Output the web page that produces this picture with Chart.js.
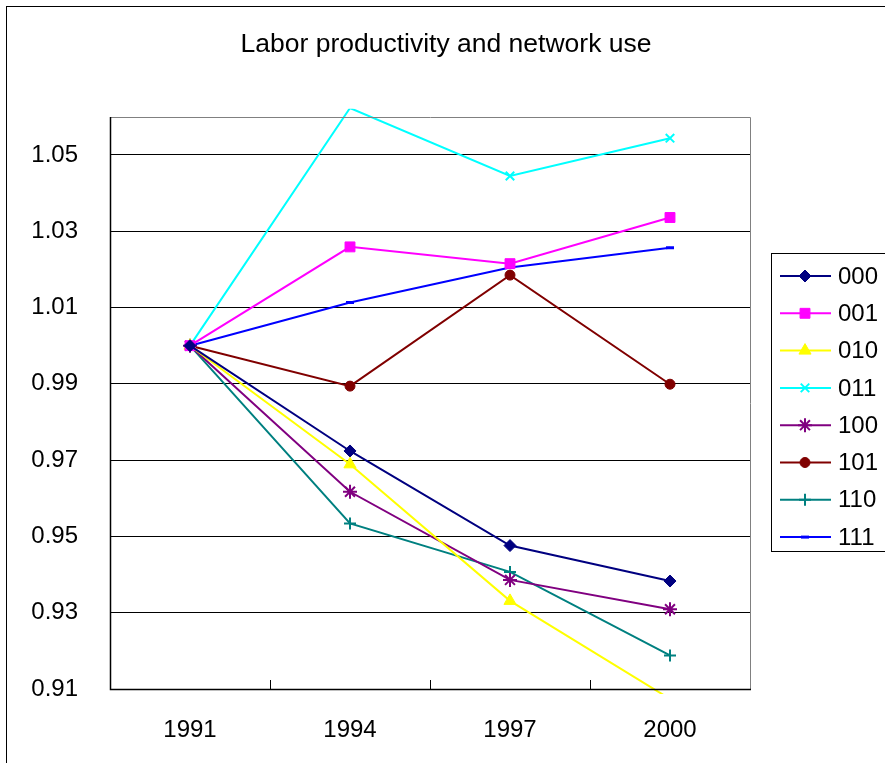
<!DOCTYPE html>
<html>
<head>
<meta charset="utf-8">
<script src="https://cdn.jsdelivr.net/npm/chart.js@4.4.0/dist/chart.umd.min.js"></script>
<style>
  html, body { margin: 0; padding: 0; background: #fff; overflow: hidden; width: 885px; height: 763px; }
  #frame { position: absolute; left: 6px; top: 6px; width: 900px; height: 800px; border-left: 1px solid #000; border-top: 1px solid #000; }
  #wrap { position: absolute; left: 7px; top: 7px; width: 878px; height: 756px; }
</style>
</head>
<body>
<div id="frame"></div>
<div id="wrap"><canvas id="c" width="878" height="756"></canvas></div>
<script>
// ---- data ----
const titleText = 'Labor productivity and network use';
const years = ['1991', '1994', '1997', '2000'];
const yTicks = [0.91, 0.93, 0.95, 0.97, 0.99, 1.01, 1.03, 1.05];
const yMin = 0.91;
const yMax = 1.06;
const seriesNames = ['000', '001', '010', '011', '100', '101', '110', '111'];
const s000 = [1.000, 0.9724, 0.9476, 0.9383];
const s001 = [1.000, 1.0259, 1.0215, 1.0336];
const s010 = [1.000, 0.9689, 0.9331, 0.9074];
const s011 = [1.000, 1.0623, 1.0445, 1.0544];
const s100 = [1.000, 0.9617, 0.9386, 0.9309];
const s101 = [1.000, 0.9894, 1.0185, 0.9899];
const s110 = [1.000, 0.9534, 0.9407, 0.9188];
const s111 = [1.000, 1.0113, 1.0205, 1.0257];

// ---- styles ----
const styles = [
  { color: '#000080', point: 'rectRot', r: 6, bw: 1 },
  { color: '#FF00FF', point: 'rect', r: 7, bw: 1 },
  { color: '#FFFF00', point: 'triangle', r: 7, bw: 1 },
  { color: '#00FFFF', point: 'crossRot', r: 6, bw: 2 },
  { color: '#800080', point: 'star', r: 7, bw: 2 },
  { color: '#800000', point: 'circle', r: 5, bw: 1 },
  { color: '#008080', point: 'cross', r: 6, bw: 2 },
  { color: '#0000FF', point: 'line', r: 4, bw: 3 }
];
const allSeries = [s000, s001, s010, s011, s100, s101, s110, s111];

const datasets = allSeries.map((vals, i) => {
  const st = styles[i];
  return {
    label: seriesNames[i],
    data: vals,
    yAxisID: 'y',
    borderColor: st.color,
    backgroundColor: st.color,
    borderWidth: 2,
    pointStyle: st.point,
    pointRadius: (ctx) => (ctx.parsed && (ctx.parsed.y < yMin || ctx.parsed.y > yMax)) ? 0 : st.r,
    pointBorderWidth: st.bw,
    pointBorderColor: st.color,
    pointBackgroundColor: st.color,
    tension: 0,
    clip: { left: 10, top: 8, right: 10, bottom: 5 }
  };
});

const FONT = "'Liberation Sans', Arial, sans-serif";

const framePlugin = {
  id: 'framePlugin',
  afterDatasetsDraw(chart) {
    const ctx = chart.ctx;
    const a = chart.chartArea;
    const xs = chart.scales.x;
    ctx.save();
    // top & right border of plot area (gray)
    ctx.strokeStyle = '#808080';
    ctx.lineWidth = 1;
    ctx.beginPath();
    ctx.moveTo(Math.round(a.left) + 0.5, Math.round(a.top) + 0.5);
    ctx.lineTo(Math.round(a.right) + 0.5, Math.round(a.top) + 0.5);
    ctx.lineTo(Math.round(a.right) + 0.5, Math.round(a.bottom) + 0.5);
    ctx.stroke();
    // axes
    ctx.strokeStyle = '#000';
    ctx.lineWidth = 1.5;
    ctx.beginPath();
    ctx.moveTo(Math.round(a.left) + 0.5, Math.round(a.top));
    ctx.lineTo(Math.round(a.left) + 0.5, Math.round(a.bottom) + 0.5);
    ctx.lineTo(Math.round(a.right) + 1, Math.round(a.bottom) + 0.5);
    ctx.stroke();
    // inward category tick marks
    ctx.lineWidth = 1;
    const n = years.length;
    for (let i = 1; i < n; i++) {
      const x = Math.round(xs.left + i * (xs.right - xs.left) / n) + 0.5;
      ctx.beginPath();
      ctx.moveTo(x, a.bottom);
      ctx.lineTo(x, a.bottom - 9);
      ctx.stroke();
    }
    ctx.restore();
  },
  afterDraw(chart) {
    const ctx = chart.ctx;
    ctx.save();
    // legend box
    const bx = 764, by = 246, bh = 298;
    ctx.strokeStyle = '#000';
    ctx.lineWidth = 1;
    ctx.strokeRect(bx + 0.5, by + 0.5, 200, bh);
    chart.data.datasets.forEach((ds, i) => {
      const st = styles[i];
      const y = 269 + i * 37.3;
      ctx.strokeStyle = st.color;
      ctx.lineWidth = 2;
      ctx.beginPath();
      ctx.moveTo(773, y);
      ctx.lineTo(824, y);
      ctx.stroke();
      ctx.fillStyle = st.color;
      ctx.lineWidth = st.bw;
      Chart.helpers.drawPoint(ctx, { pointStyle: st.point, radius: st.r, borderWidth: st.bw, rotation: 0 }, 798, y);
      ctx.fillStyle = '#000';
      ctx.font = '24px ' + FONT;
      ctx.textAlign = 'left';
      ctx.textBaseline = 'middle';
      ctx.fillText(ds.label, 831, y + 1);
    });
    ctx.restore();
  }
};

new Chart(document.getElementById('c'), {
  type: 'line',
  data: { labels: years, datasets },
  options: {
    responsive: false,
    animation: false,
    events: [],
    layout: { padding: 0 },
    plugins: {
      legend: { display: false },
      tooltip: { enabled: false },
      title: {
        display: true,
        text: titleText,
        color: '#000',
        font: { family: FONT, size: 26.5, weight: 'normal', lineHeight: 1.2 },
        padding: { top: 22, bottom: 56 }
      }
    },
    scales: {
      x: {
        type: 'category',
        offset: true,
        grid: { display: false, drawTicks: false },
        border: { display: false },
        ticks: { color: '#000', font: { family: FONT, size: 24 }, padding: 27, maxRotation: 0 },
        afterFit(scale) { scale.height = 74; }
      },
      y: {
        min: yMin,
        max: yMax,
        grid: { color: '#000', lineWidth: 1, drawTicks: false },
        border: { display: false },
        afterBuildTicks(scale) { scale.ticks = yTicks.map(v => ({ value: v })); },
        ticks: {
          color: '#000',
          font: { family: FONT, size: 24 },
          padding: 32,
          callback: (v) => Number(v).toFixed(2)
        },
        afterFit(scale) { scale.width = 103; }
      },
      yRight: {
        type: 'linear',
        position: 'right',
        min: 0,
        max: 1,
        grid: { display: false, drawTicks: false },
        border: { display: false },
        ticks: { display: false },
        afterFit(scale) { scale.width = 135; }
      }
    }
  },
  plugins: [framePlugin]
});
</script>
</body>
</html>
